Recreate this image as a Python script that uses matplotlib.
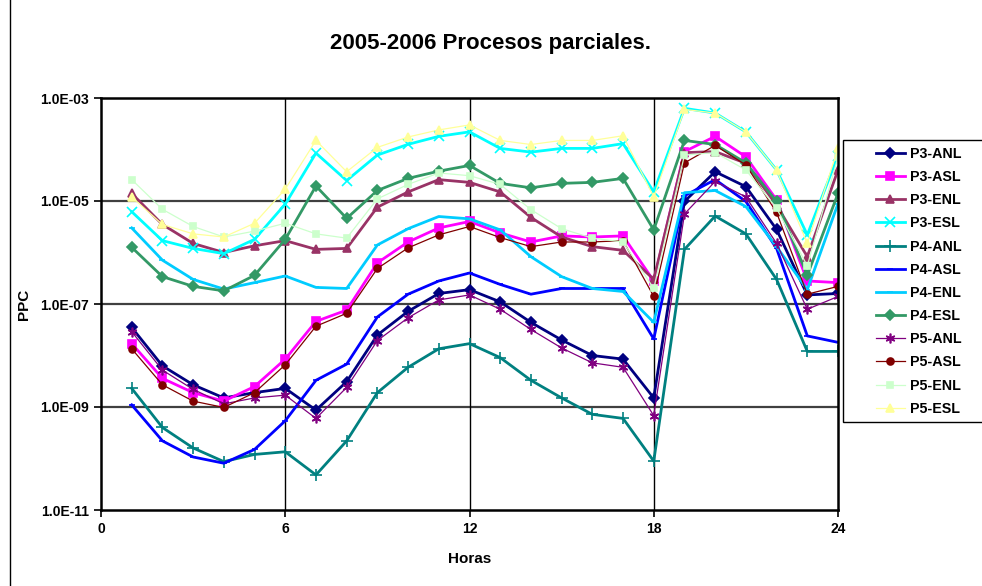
import matplotlib
matplotlib.use("Agg")
import matplotlib.pyplot as plt
from matplotlib.lines import Line2D
from matplotlib.patches import Rectangle
from matplotlib.ticker import FixedLocator, FuncFormatter, NullLocator

plt.rcParams['font.family'] = ['Liberation Sans', 'DejaVu Sans']

horas = list(range(1, 25))

p3_anl = [3.5e-8, 6.3e-9, 2.7e-9, 1.5e-9, 1.9e-9, 2.3e-9, 8.7e-10, 3.1e-9, 2.5e-8, 7.2e-8, 1.6e-7, 1.9e-7,
          1.1e-7, 4.4e-8, 2.0e-8, 1.0e-8, 8.5e-9, 1.5e-9, 9.8e-6, 3.7e-5, 1.9e-5, 2.8e-6, 1.5e-7, 1.6e-7]
p3_asl = [1.7e-8, 3.6e-9, 1.9e-9, 1.3e-9, 2.5e-9, 8.5e-9, 4.6e-8, 7.6e-8, 6.3e-7, 1.6e-6, 3.0e-6, 4.0e-6,
          2.4e-6, 1.6e-6, 2.1e-6, 2.0e-6, 2.1e-6, 2.8e-7, 9.1e-5, 1.8e-4, 7.2e-5, 1.05e-5, 2.8e-7, 2.6e-7]
p3_enl = [1.4e-5, 3.5e-6, 1.5e-6, 1.0e-6, 1.35e-6, 1.7e-6, 1.15e-6, 1.2e-6, 7.6e-6, 1.5e-5, 2.6e-5, 2.3e-5,
          1.5e-5, 4.8e-6, 2.0e-6, 1.3e-6, 1.1e-6, 3.0e-7, 8.7e-5, 9.1e-5, 5.4e-5, 8.3e-6, 8.3e-7, 4.0e-5]
p3_esl = [6.2e-6, 1.7e-6, 1.2e-6, 9.5e-7, 1.8e-6, 8.7e-6, 8.5e-5, 2.5e-5, 7.8e-5, 1.26e-4, 1.8e-4, 2.2e-4,
          1.05e-4, 8.9e-5, 1.05e-4, 1.05e-4, 1.3e-4, 1.5e-5, 6.3e-4, 5.1e-4, 2.2e-4, 4.0e-5, 2.2e-6, 7.6e-5]
p4_anl = [2.3e-9, 4.0e-10, 1.6e-10, 8.7e-11, 1.2e-10, 1.35e-10, 4.8e-11, 2.2e-10, 1.9e-9, 5.9e-9, 1.35e-8, 1.7e-8,
          9.1e-9, 3.3e-9, 1.5e-9, 7.2e-10, 6.0e-10, 8.9e-11, 1.15e-6, 5.1e-6, 2.3e-6, 3.0e-7, 1.2e-8, 1.2e-8]
p4_asl = [1.1e-9, 2.2e-10, 1.07e-10, 8.1e-11, 1.5e-10, 5.4e-10, 3.3e-9, 6.8e-9, 5.6e-8, 1.55e-7, 2.8e-7, 4.0e-7,
          2.4e-7, 1.55e-7, 2.0e-7, 2.0e-7, 2.0e-7, 2.1e-8, 1.26e-5, 2.6e-5, 9.8e-6, 1.2e-6, 2.4e-8, 1.8e-8]
p4_enl = [3.0e-6, 7.1e-7, 3.0e-7, 1.95e-7, 2.6e-7, 3.5e-7, 2.1e-7, 2.0e-7, 1.4e-6, 2.9e-6, 5.0e-6, 4.5e-6,
          2.75e-6, 8.3e-7, 3.4e-7, 2.0e-7, 1.75e-7, 4.4e-8, 1.45e-5, 1.6e-5, 7.8e-6, 1.3e-6, 1.9e-7, 8.9e-6]
p4_esl = [1.26e-6, 3.4e-7, 2.2e-7, 1.8e-7, 3.6e-7, 1.8e-6, 1.95e-5, 4.6e-6, 1.6e-5, 2.75e-5, 3.8e-5, 4.9e-5,
          2.2e-5, 1.8e-5, 2.2e-5, 2.3e-5, 2.75e-5, 2.75e-6, 1.5e-4, 1.25e-4, 5.5e-5, 9.8e-6, 3.6e-7, 1.4e-5]
p5_anl = [2.9e-8, 5.2e-9, 2.2e-9, 1.15e-9, 1.5e-9, 1.7e-9, 6.0e-10, 2.4e-9, 1.95e-8, 5.4e-8, 1.2e-7, 1.5e-7,
          7.9e-8, 3.2e-8, 1.4e-8, 7.2e-9, 5.9e-9, 6.8e-10, 5.6e-6, 2.4e-5, 1.2e-5, 1.5e-6, 7.9e-8, 1.4e-7]
p5_asl = [1.35e-8, 2.7e-9, 1.3e-9, 9.8e-10, 1.9e-9, 6.6e-9, 3.7e-8, 6.6e-8, 4.9e-7, 1.23e-6, 2.2e-6, 3.2e-6,
          1.95e-6, 1.3e-6, 1.6e-6, 1.6e-6, 1.7e-6, 1.4e-7, 5.5e-5, 1.2e-4, 5.0e-5, 6.0e-6, 1.55e-7, 2.2e-7]
p5_enl = [2.6e-5, 6.9e-6, 3.2e-6, 2.0e-6, 2.6e-6, 3.7e-6, 2.3e-6, 1.9e-6, 1.1e-5, 2.1e-5, 3.5e-5, 3.1e-5,
          2.1e-5, 6.8e-6, 2.9e-6, 1.9e-6, 1.6e-6, 2.0e-7, 7.8e-5, 8.7e-5, 4.0e-5, 7.2e-6, 5.5e-7, 7.1e-5]
p5_esl = [1.2e-5, 3.5e-6, 2.3e-6, 2.0e-6, 3.7e-6, 1.7e-5, 1.5e-4, 3.7e-5, 1.1e-4, 1.75e-4, 2.4e-4, 3.0e-4,
          1.5e-4, 1.25e-4, 1.5e-4, 1.5e-4, 1.85e-4, 1.2e-5, 6.0e-4, 5.1e-4, 2.2e-4, 4.0e-5, 1.5e-6, 1.05e-4]

# (label, data, color, marker, markersize, linewidth)
series = [
    ("P3-ANL", p3_anl, "#000080", "D", 5, 2.0),
    ("P3-ASL", p3_asl, "#FF00FF", "s", 6, 2.0),
    ("P3-ENL", p3_enl, "#993366", "^", 6, 2.0),
    ("P3-ESL", p3_esl, "#00FFFF", "x", 7, 2.0),
    ("P4-ANL", p4_anl, "#008080", "+", 8, 2.0),
    ("P4-ASL", p4_asl, "#0000FF", "_", 5, 2.0),
    ("P4-ENL", p4_enl, "#00CCFF", "_", 5, 2.0),
    ("P4-ESL", p4_esl, "#339966", "D", 5, 2.0),
    ("P5-ANL", p5_anl, "#800080", (6, 2, 0), 7, 0.9),
    ("P5-ASL", p5_asl, "#800000", "o", 5, 0.9),
    ("P5-ENL", p5_enl, "#CCFFCC", "s", 5, 0.9),
    ("P5-ESL", p5_esl, "#FFFF99", "^", 6, 0.9),
]

fig = plt.figure(figsize=(9.82, 5.86), dpi=100)
ax = fig.add_axes([101 / 982, 76 / 586, 737 / 982, 412 / 586])

for label, data, color, marker, ms, lw in series:
    ax.plot(horas, data, color=color, marker=marker, markersize=ms, linewidth=lw,
            markeredgewidth=1.2, markerfacecolor=color, markeredgecolor=color, label=label)

ax.set_yscale('log')
ax.set_ylim(1e-11, 1e-3)
ax.set_xlim(0, 24)
ax.yaxis.set_major_locator(FixedLocator([1e-11, 1e-9, 1e-7, 1e-5, 1e-3]))
ax.yaxis.set_minor_locator(NullLocator())
ax.yaxis.set_major_formatter(FuncFormatter(lambda v, p: "%.1E" % v))
ax.set_xticks([0, 6, 12, 18, 24])

for v in [1e-9, 1e-7, 1e-5]:
    ax.axhline(v, color="#404040", linewidth=1.6, zorder=0.5)
for h in [6, 12, 18]:
    ax.axvline(h, color="black", linewidth=1.0, zorder=0.5)

for s in ax.spines.values():
    s.set_linewidth(1.8)
ax.tick_params(axis='both', direction='out', length=5, width=1.2, labelsize=10)
for t in ax.get_xticklabels() + ax.get_yticklabels():
    t.set_fontweight('bold')

ax.set_xlabel("Horas", fontsize=11, fontweight='bold', labelpad=12)
ax.set_ylabel("PPC", fontsize=11, fontweight='bold', labelpad=7)
fig.text(0.5, 1 - 43 / 586, "2005-2006 Procesos parciales.", ha='center', va='center',
         fontsize=16, fontweight='bold')

# legend frame drawn separately, entries placed inside it
fig.add_artist(Rectangle((843 / 982, 1 - 422 / 586), 0.2, 282 / 586, transform=fig.transFigure,
                         facecolor='white', edgecolor='black', linewidth=1.0, zorder=2))
leg = fig.legend(loc='upper left', bbox_to_anchor=(876 / 982, 1 - 147 / 586), frameon=False,
                 prop={'weight': 'bold', 'size': 10.3}, labelspacing=0.64, handlelength=2.0,
                 handletextpad=0.4, borderpad=0.0, borderaxespad=0)
leg.set_zorder(3)

fig.add_artist(Line2D([10 / 982, 10 / 982], [0, 1], color='black', linewidth=1.0))

fig.savefig("out.png", dpi=100)
